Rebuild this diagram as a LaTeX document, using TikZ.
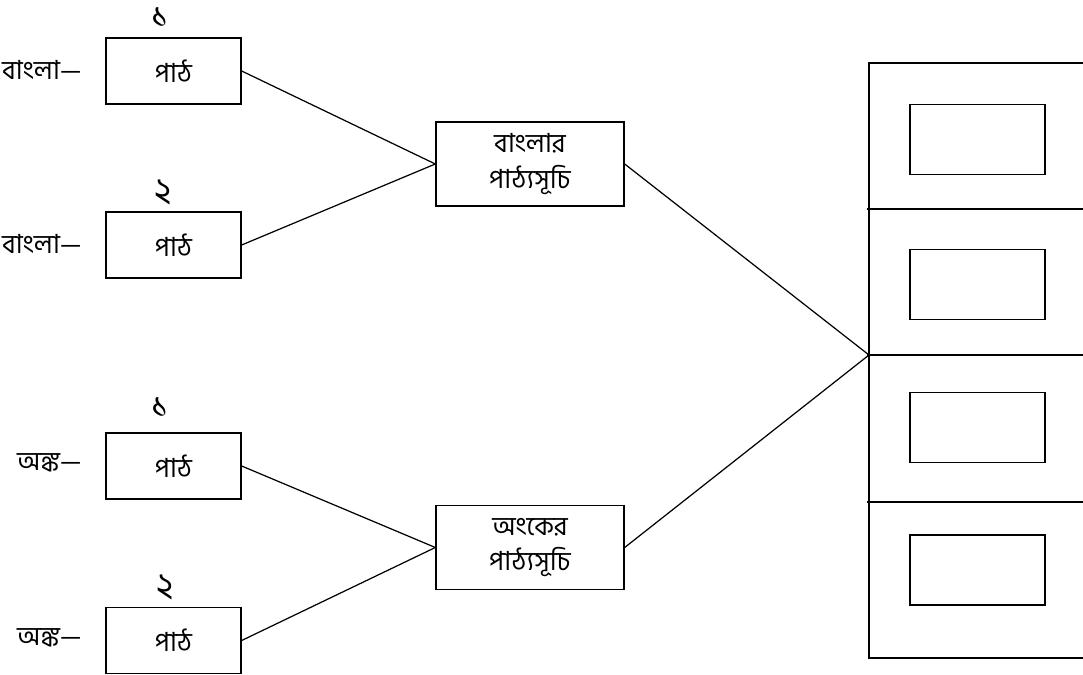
\documentclass[tikz,border=0pt]{standalone}
\usepackage{fontspec}
\setmainfont[Script=Bengali]{Hind Siliguri}
\usetikzlibrary{positioning}
\tikzset{
  every node/.style={font=\fontsize{15}{20}\selectfont},
  lessonbox/.style={draw, rectangle, line width=0.8pt, minimum width=2.7cm, minimum height=1.32cm, inner sep=0pt},
  syllabusbox/.style={draw, rectangle, line width=0.8pt, minimum width=3.76cm, minimum height=1.68cm, align=center, inner sep=0pt},
  slotbox/.style={draw, rectangle, line width=0.8pt, minimum width=2.7cm, minimum height=1.4cm, inner sep=0pt},
  numlabel/.style={font=\fontsize{20}{20}\selectfont, inner sep=0pt},
  link/.style={line width=0.7pt}
}

\begin{document}
\begin{tikzpicture}[x=0.02cm, y=-0.02cm]
    \useasboundingbox (0,0) rectangle (1083,675);

    % Bangla lessons
    \node[lessonbox] (bn1) at (173.5,71) {পাঠ};
    \node[numlabel] at (160,17) {১};
    \node[anchor=east, inner sep=0pt] (bnlabel1) at (82,70) {বাংলা—};

    \node[lessonbox] (bn2) at (173.5,245) {পাঠ};
    \node[numlabel] at (163,192) {২};
    \node[anchor=east, inner sep=0pt] (bnlabel2) at (82,244) {বাংলা—};

    % Math lessons
    \node[lessonbox] (mt1) at (173.5,466) {পাঠ};
    \node[numlabel] at (160,407) {১};
    \node[anchor=east, inner sep=0pt] (mtlabel1) at (82,463) {অঙ্ক—};

    \node[lessonbox] (mt2) at (173.5,640.5) {পাঠ};
    \node[numlabel] at (165,587) {২};
    \node[anchor=east, inner sep=0pt] (mtlabel2) at (82,638) {অঙ্ক—};

    % Syllabus boxes
    \node[syllabusbox] (bnsyl) at (530,164) {বাংলার\\পাঠ্যসূচি};
    \node[syllabusbox] (mtsyl) at (530,547.5) {অংকের\\পাঠ্যসূচি};

    % Shelf on the right
    \coordinate (shelfin) at (869,355);
    \draw[line width=0.8pt] (1083,63) -- (869,63) -- (869,658) -- (1083,658);
    \foreach \y in {209,355,502}
        \draw[line width=0.8pt] (867,\y) -- (1083,\y);
    \foreach \y/\name in {139.5/slot1, 284.5/slot2, 427.5/slot3, 570/slot4}
        \node[slotbox] (\name) at (977.5,\y) {};

    % Links
    \draw[link] (bn1.east) -- (bnsyl.west);
    \draw[link] (bn2.east) -- (bnsyl.west);
    \draw[link] (mt1.east) -- (mtsyl.west);
    \draw[link] (mt2.east) -- (mtsyl.west);
    \draw[link] (bnsyl.east) -- (shelfin);
    \draw[link] (mtsyl.east) -- (shelfin);
\end{tikzpicture}
\end{document}
